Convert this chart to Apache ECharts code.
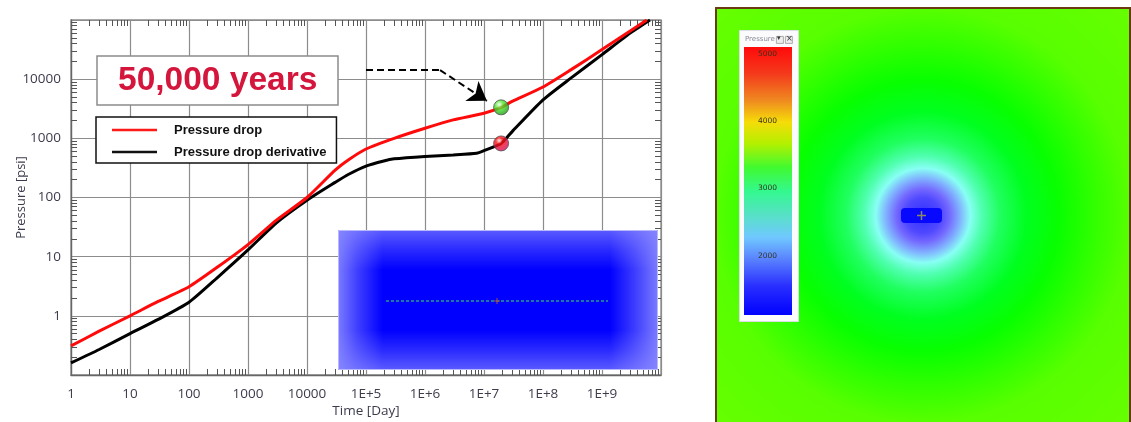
<!DOCTYPE html>
<html>
<head>
<meta charset="utf-8">
<script src="https://cdn.jsdelivr.net/npm/echarts@6/dist/echarts.min.js"></script>
<style>
  html, body { margin: 0; padding: 0; background: #ffffff; }
  #chart { width: 1131px; height: 422px; }
</style>
</head>
<body>
<div id="chart"></div>
<script>
// Pressure drop and its derivative versus time (log-log)
const dropDays = [1, 3, 10, 30, 100, 300, 1e3, 3e3, 1e4, 3e4, 5e4, 1e5, 3e5, 1e6, 3e6, 1e7, 1.95e7, 3e7, 1e8, 3e8, 1e9, 3e9, 5.75e9];
const dropPsi  = [0.31, 0.55, 1.0, 1.75, 3.1, 6.6, 16, 41, 100, 290, 430, 660, 1000, 1480, 2050, 2660, 3340, 4200, 7360, 14500, 31600, 65000, 100000];

const derivDays = [1, 3, 10, 30, 100, 300, 1e3, 3e3, 1e4, 3e4, 5e4, 1e5, 2e5, 3e5, 1e6, 3e6, 7.5e6, 1e7, 1.95e7, 3e7, 1e8, 3e8, 1e9, 3e9, 6.5e9];
const derivPsi  = [0.16, 0.27, 0.5, 0.87, 1.7, 4.4, 13, 37, 90, 180, 245, 340, 415, 450, 495, 525, 560, 620, 820, 1300, 4460, 10500, 26000, 60000, 100000];

// State at 50,000 years
const markerDay = 1.95e7;
const markerDropPsi = 3340;
const markerDerivPsi = 820;

// Call-out arrow (day, psi): flat run, then the pointer
const arrowRun = [[1e5, 14200], [1.8e6, 14200]];
const arrowPointer = [[1.8e6, 14200], [1.12e7, 4300]];

const seriesNames = ['Pressure drop', 'Pressure drop derivative'];
const titleText = '50,000 years';

// Colour bar of the pressure map
const barMin = 1118, barMax = 5104;
const barTicks = [2000, 3000, 4000, 5000];

const xMin = 1, xMax = 1e10, yMin = 0.1, yMax = 1e5;

// Positions (as powers of ten) of the 2..9 sub-ticks in each decade
function minorExponents(lo, hi) {
  const out = [];
  for (let e = Math.round(Math.log10(lo)); e < Math.round(Math.log10(hi)); e++) {
    for (let k = 2; k <= 9; k++) out.push(e + Math.log10(k));
  }
  return out;
}
const xMinor = minorExponents(xMin, xMax);
const yMinor = minorExponents(yMin, yMax);

function zip(a, b) { return a.map((v, i) => [v, b[i]]); }

const labelFont = { fontFamily: 'Open Sans', fontSize: 13.5, color: '#3c3c4c' };
const tickLine = { color: '#555555', width: 1 };

// Decade-exponent axis carrying only the sub-ticks
function minorAxis(pos, lo, hi, vals) {
  return {
    type: 'value', gridIndex: 0, position: pos,
    min: Math.log10(lo), max: Math.log10(hi),
    axisLine: { show: false, onZero: false }, axisLabel: { show: false }, splitLine: { show: false },
    axisTick: { show: true, inside: true, length: 6, lineStyle: tickLine, customValues: vals },
    z: 3
  };
}

const chart = echarts.init(document.getElementById('chart'), null, { renderer: 'canvas' });

const option = {
  animation: false,
  backgroundColor: '#ffffff',
  title: {
    text: titleText,
    left: 97, top: 56,
    padding: [8, 21, 8, 21],
    backgroundColor: '#ffffff',
    borderColor: '#8c8c8c', borderWidth: 1.5,
    textStyle: { fontFamily: 'Liberation Sans', fontWeight: 'bold', fontSize: 33.5, lineHeight: 33, color: '#d4163c' },
    z: 8
  },
  legend: {
    data: seriesNames,
    orient: 'vertical',
    left: 96, top: 117,
    padding: [5, 10, 3, 16],
    icon: 'rect',
    itemWidth: 45, itemHeight: 2.5, itemGap: 6,
    backgroundColor: '#ffffff',
    borderColor: '#111111', borderWidth: 1.5,
    textStyle: { fontFamily: 'Liberation Sans', fontWeight: 'bold', fontSize: 13, lineHeight: 16, color: '#111111', padding: [0, 0, 0, 12] },
    z: 8
  },
  grid: [
    { left: 71, top: 20, width: 590, height: 355, outerBoundsMode: 'none', containLabel: false,
      show: true, borderColor: '#8a8a8a', borderWidth: 1.3, backgroundColor: 'transparent' },
    { left: 744, top: 47, width: 48, height: 268, outerBoundsMode: 'none', containLabel: false }
  ],
  xAxis: [
    {
      type: 'log', logBase: 10, gridIndex: 0, position: 'bottom', min: xMin, max: xMax, interval: 1,
      name: 'Time [Day]', nameLocation: 'middle', nameGap: 29, nameMoveOverlap: false,
      nameTextStyle: { fontFamily: 'Open Sans', fontSize: 13.5, color: '#3c3c4c' },
      axisLine: { show: true, onZero: false, lineStyle: { color: '#666666', width: 1.3 } },
      axisTick: { show: false },
      axisLabel: Object.assign({ margin: 12, showMaxLabel: false, formatter: function (v) {
        const e = Math.round(Math.log10(v));
        return e >= 5 ? '1E+' + e : String(Math.round(v));
      } }, labelFont),
      splitLine: { show: true, lineStyle: { color: '#8c8c8c', width: 1.2 } }
    },
    minorAxis('bottom', xMin, xMax, xMinor),
    minorAxis('top', xMin, xMax, xMinor),
    { type: 'category', gridIndex: 1, data: ['P'], show: false }
  ],
  yAxis: [
    {
      type: 'log', logBase: 10, gridIndex: 0, position: 'left', min: yMin, max: yMax, interval: 1,
      name: 'Pressure [psi]', nameLocation: 'middle', nameGap: 43, nameRotate: 90, nameMoveOverlap: false,
      nameTextStyle: { fontFamily: 'Open Sans', fontSize: 13, color: '#3c3c4c' },
      axisLine: { show: true, onZero: false, lineStyle: { color: '#666666', width: 1.3 } },
      axisTick: { show: false },
      axisLabel: Object.assign({ margin: 10, showMinLabel: false, showMaxLabel: false, formatter: function (v) {
        return String(Math.round(v));
      } }, labelFont),
      splitLine: { show: true, lineStyle: { color: '#8c8c8c', width: 1.2 } }
    },
    minorAxis('left', yMin, yMax, yMinor),
    minorAxis('right', yMin, yMax, yMinor),
    {
      type: 'value', gridIndex: 1, min: barMin, max: barMax,
      axisLine: { show: false }, axisTick: { show: false }, splitLine: { show: false },
      axisLabel: { inside: true, margin: 14, customValues: barTicks, formatter: function (v) { return String(v); },
        fontFamily: 'DejaVu Sans', fontSize: 7.5, color: '#34341c' },
      z: 6
    }
  ],
  series: [
    {
      name: seriesNames[0], type: 'line', xAxisIndex: 0, yAxisIndex: 0,
      data: zip(dropDays, dropPsi), smooth: 0.2, symbol: 'none', showSymbol: false,
      lineStyle: { color: '#ff0a0a', width: 3 }, itemStyle: { color: '#ff1a1a' }, z: 4
    },
    {
      name: seriesNames[1], type: 'line', xAxisIndex: 0, yAxisIndex: 0,
      data: zip(derivDays, derivPsi), smooth: 0.2, symbol: 'none', showSymbol: false,
      lineStyle: { color: '#000000', width: 3 }, itemStyle: { color: '#111111' }, z: 3
    },
    {
      name: 'arrow run', type: 'lines', coordinateSystem: 'cartesian2d', xAxisIndex: 0, yAxisIndex: 0,
      symbol: ['none', 'none'],
      lineStyle: { color: '#000000', width: 2, type: [7, 4], opacity: 1 },
      data: [{ coords: arrowRun }], z: 5
    },
    {
      name: 'arrow pointer', type: 'lines', coordinateSystem: 'cartesian2d', xAxisIndex: 0, yAxisIndex: 0,
      symbol: ['none', 'arrow'], symbolSize: [16, 18],
      lineStyle: { color: '#000000', width: 2, type: [7, 4], opacity: 1 },
      data: [{ coords: arrowPointer }], z: 5
    },
    {
      name: 'drop marker', type: 'scatter', xAxisIndex: 0, yAxisIndex: 0,
      data: [[markerDay, markerDropPsi]], symbolSize: 15,
      itemStyle: {
        color: { type: 'radial', x: 0.38, y: 0.32, r: 0.7, colorStops: [
          { offset: 0, color: '#f0ffe8' }, { offset: 0.35, color: '#52e830' }, { offset: 1, color: '#189a10' }] },
        borderColor: '#505050', borderWidth: 1
      }, z: 6
    },
    {
      name: 'derivative marker', type: 'scatter', xAxisIndex: 0, yAxisIndex: 0,
      data: [[markerDay, markerDerivPsi]], symbolSize: 15,
      itemStyle: {
        color: { type: 'radial', x: 0.38, y: 0.32, r: 0.7, colorStops: [
          { offset: 0, color: '#ffe4e4' }, { offset: 0.3, color: '#ff1010' }, { offset: 1, color: '#d0106a' }] },
        borderColor: '#505050', borderWidth: 1
      }, z: 6
    },
    {
      name: 'colour bar', type: 'bar', xAxisIndex: 3, yAxisIndex: 3,
      data: [barMax], barWidth: '100%', clip: true, silent: true,
      itemStyle: {
        color: { type: 'linear', x: 0, y: 0, x2: 0, y2: 1, colorStops: [
          { offset: 0.00, color: '#ff0a0a' },
          { offset: 0.10, color: '#f43a1c' },
          { offset: 0.20, color: '#ef8a20' },
          { offset: 0.28, color: '#f6dc08' },
          { offset: 0.36, color: '#b4f000' },
          { offset: 0.45, color: '#40fa30' },
          { offset: 0.54, color: '#34f890' },
          { offset: 0.63, color: '#58e0c8' },
          { offset: 0.71, color: '#70c8ff' },
          { offset: 0.79, color: '#5a84ff' },
          { offset: 0.89, color: '#2a30ff' },
          { offset: 1.00, color: '#0000ff' }] }
      }, z: 4
    }
  ],
  graphic: [
    // pressure map field
    {
      type: 'rect', left: 715, top: 7, z: 0,
      shape: { width: 414, height: 415 },
      style: {
        fill: { type: 'radial', x: 0.5, y: 0.5, r: 0.71, colorStops: [
          { offset: 0.000, color: '#3030ff' },
          { offset: 0.060, color: '#5048ff' },
          { offset: 0.090, color: '#7468ff' },
          { offset: 0.125, color: '#80b0ff' },
          { offset: 0.160, color: '#88fff4' },
          { offset: 0.200, color: '#50ffb0' },
          { offset: 0.260, color: '#20ff60' },
          { offset: 0.350, color: '#00ff20' },
          { offset: 0.460, color: '#08ff00' },
          { offset: 0.578, color: '#30ff00' },
          { offset: 0.704, color: '#58ff00' },
          { offset: 1.000, color: '#66ff00' }] },
        stroke: '#6b3a12', lineWidth: 2
      }
    },
    { type: 'rect', left: 901, top: 208, z: 1, shape: { width: 41, height: 15, r: 4 }, style: { fill: '#0808ff' } },
    { type: 'line', z: 1, shape: { x1: 917, y1: 215.5, x2: 926, y2: 215.5 }, style: { stroke: '#8a8a60', lineWidth: 1.5 } },
    { type: 'line', z: 1, shape: { x1: 921.5, y1: 211, x2: 921.5, y2: 220 }, style: { stroke: '#8a8a60', lineWidth: 1.5 } },
    // colour bar panel
    { type: 'rect', left: 739, top: 30, z: 1, shape: { width: 59, height: 291 }, style: { fill: '#fbfbfd', stroke: '#dcdce4', lineWidth: 1 } },
    { type: 'text', left: 745, top: 36, z: 2, style: { text: 'Pressure', fontFamily: 'DejaVu Sans', fontSize: 7, fill: '#8a8a98' } },
    { type: 'rect', left: 776, top: 36, z: 2, shape: { width: 7, height: 7 }, style: { fill: '#eeeeee', stroke: '#999999', lineWidth: 0.8 } },
    { type: 'text', left: 777, top: 35, z: 3, style: { text: '▾', fontFamily: 'DejaVu Sans', fontSize: 7, fill: '#333333' } },
    { type: 'rect', left: 785, top: 36, z: 2, shape: { width: 7, height: 7 }, style: { fill: '#eeeeee', stroke: '#999999', lineWidth: 0.8 } },
    { type: 'text', left: 786, top: 35, z: 3, style: { text: '×', fontFamily: 'DejaVu Sans', fontSize: 8, fill: '#333333' } },
    // well / fracture view
    {
      type: 'group', left: 336, top: 228, z: 10,
      children: [
        { type: 'rect', z: 10, shape: { x: 0, y: 0, width: 320, height: 140 }, style: { fill: '#0000ff' } },
        { type: 'rect', z: 10, shape: { x: 0, y: 0, width: 320, height: 140 }, style: {
          fill: { type: 'linear', x: 0, y: 0, x2: 1, y2: 0, colorStops: [
            { offset: 0.00, color: 'rgba(140,140,255,0.88)' },
            { offset: 0.06, color: 'rgba(140,140,255,0.45)' },
            { offset: 0.14, color: 'rgba(140,140,255,0)' },
            { offset: 0.85, color: 'rgba(140,140,255,0)' },
            { offset: 0.93, color: 'rgba(140,140,255,0.45)' },
            { offset: 1.00, color: 'rgba(140,140,255,0.88)' }] } } },
        { type: 'rect', z: 10, shape: { x: 0, y: 0, width: 320, height: 140 }, style: {
          fill: { type: 'linear', x: 0, y: 0, x2: 0, y2: 1, colorStops: [
            { offset: 0.00, color: 'rgba(140,140,255,0.65)' },
            { offset: 0.14, color: 'rgba(140,140,255,0.3)' },
            { offset: 0.286, color: 'rgba(140,140,255,0)' },
            { offset: 0.714, color: 'rgba(140,140,255,0)' },
            { offset: 0.86, color: 'rgba(140,140,255,0.3)' },
            { offset: 1.00, color: 'rgba(140,140,255,0.65)' }] } } },
        { type: 'rect', z: 10, shape: { x: 0.5, y: 0.5, width: 319, height: 139 }, style: { fill: 'none', stroke: '#b8b8ff', lineWidth: 1 } },
        { type: 'line', z: 11, shape: { x1: 48, y1: 71, x2: 270, y2: 71 }, style: { stroke: '#2a9a8a', lineWidth: 1.5, lineDash: [3, 2] } },
        { type: 'line', z: 11, shape: { x1: 156, y1: 71, x2: 162, y2: 71 }, style: { stroke: '#a05050', lineWidth: 1 } },
        { type: 'line', z: 11, shape: { x1: 159, y1: 68, x2: 159, y2: 74 }, style: { stroke: '#a05050', lineWidth: 1 } }
      ]
    }
  ]
};

chart.setOption(option);
</script>
</body>
</html>
